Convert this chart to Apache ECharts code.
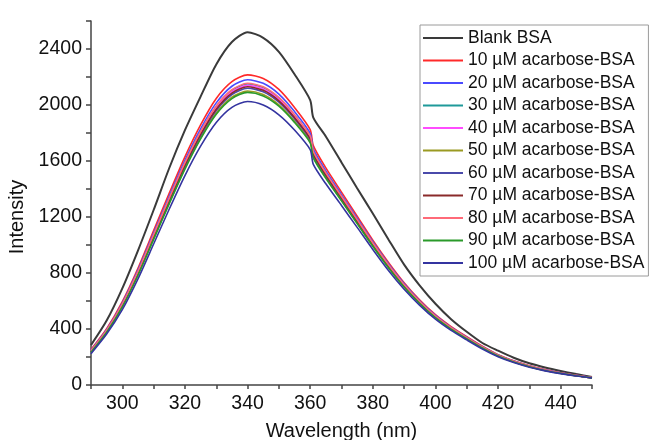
<!DOCTYPE html>
<html>
<head>
<meta charset="utf-8">
<script src="https://cdn.jsdelivr.net/npm/echarts@6/dist/echarts.min.js"></script>
<style>
html,body{margin:0;padding:0;background:#fff;}
#chart{width:651px;height:440px;}
</style>
</head>
<body>
<div id="chart"></div>
<script>
const wavelengths = [290,295,300,305,310,315,320,325,330,335,340,345,350,355,360,361,365,370,375,380,385,390,395,400,405,410,415,420,425,430,435,440,445,450];

const seriesNames = ['Blank BSA','10 µM acarbose-BSA','20 µM acarbose-BSA','30 µM acarbose-BSA','40 µM acarbose-BSA','50 µM acarbose-BSA','60 µM acarbose-BSA','70 µM acarbose-BSA','80 µM acarbose-BSA','90 µM acarbose-BSA','100 µM acarbose-BSA'];

const blank  = [285,460,690,960,1250,1550,1820,2060,2290,2450,2520,2480,2380,2220,2035,1910,1775,1590,1405,1225,1040,860,710,580,470,380,300,245,195,155,125,100,78,58];
const c10    = [253,402,596,834,1103,1371,1630,1858,2047,2167,2215,2190,2111,1982,1824,1710,1551,1378,1206,1035,876,731,607,502,417,345,277,217,173,138,110,88,70,54];
const c20    = [248,395,585,820,1085,1350,1605,1830,2015,2134,2180,2155,2078,1953,1798,1685,1530,1360,1191,1023,865,723,600,497,412,341,273,214,171,136,109,87,69,53];
const c30    = [243,389,576,808,1070,1332,1584,1806,1988,2104,2150,2125,2049,1927,1775,1664,1512,1345,1178,1012,856,715,594,491,408,337,270,212,168,134,107,86,68,52];
const c40    = [242,387,573,804,1065,1326,1577,1798,1979,2095,2140,2115,2040,1919,1768,1657,1506,1340,1174,1009,853,713,592,490,406,336,269,211,168,134,107,85,67,52];
const c50    = [235,379,561,788,1045,1302,1549,1766,1943,2056,2100,2075,2001,1884,1737,1629,1482,1320,1157,994,841,702,584,483,401,331,265,208,165,131,104,84,66,51];
const c60    = [238,383,567,796,1055,1314,1563,1782,1961,2075,2120,2095,2020,1901,1752,1643,1494,1330,1166,1001,847,707,588,486,404,334,267,209,166,132,105,85,67,52];
const c70    = [240,385,570,800,1060,1320,1570,1790,1970,2085,2130,2105,2030,1910,1760,1650,1500,1335,1170,1005,850,710,590,488,405,335,268,210,167,133,106,85,67,52];
const c80    = [244,390,578,810,1073,1335,1588,1810,1993,2109,2155,2130,2054,1931,1779,1668,1515,1348,1181,1014,858,716,595,492,409,338,271,212,169,135,107,86,68,53];
const c90    = [234,377,558,784,1040,1296,1542,1758,1934,2046,2090,2065,1992,1876,1730,1622,1476,1315,1153,991,838,700,582,481,399,330,264,207,164,131,104,83,66,51];
const c100   = [224,364,538,758,1007,1257,1496,1706,1875,1983,2025,2000,1930,1821,1681,1576,1437,1282,1126,968,818,684,569,470,390,322,257,202,160,127,101,81,64,50];

const allValues = [blank,c10,c20,c30,c40,c50,c60,c70,c80,c90,c100];
const colors = ['#3a3a3a','#ff2a2a','#4a4aff','#1f9a9a','#ff4cff','#9a9a22','#4a4aaa','#8a2a2a','#ff6a78','#2a9a2a','#3434a0'];

const font = '"Liberation Sans", Arial, Helvetica, sans-serif';
const chart = echarts.init(document.getElementById('chart'));

const series = seriesNames.map((name, i) => ({
  name: name,
  type: 'line',
  data: wavelengths.map((w, j) => [w, allValues[i][j]]),
  showSymbol: false,
  symbol: 'none',
  smooth: 0.25,
  lineStyle: { color: colors[i], width: i === 0 ? 2 : 1.6 },
  itemStyle: { color: colors[i] },
  z: 2,
  animation: false
}));

chart.setOption({
  animation: false,
  backgroundColor: '#fff',
  textStyle: { fontFamily: font },
  grid: { left: 91, right: 59, top: 21, bottom: 55, containLabel: false, outerBoundsMode: 'none' },
  legend: {
    orient: 'vertical',
    left: 420,
    top: 25,
    padding: [4, 4, 4, 3],
    icon: 'rect',
    itemWidth: 40,
    itemHeight: 2,
    itemGap: 4.5,
    borderColor: '#9a9a9a',
    borderWidth: 1,
    backgroundColor: '#fff',
    textStyle: { fontFamily: font, fontSize: 17.5, color: '#111', lineHeight: 18 },
    data: seriesNames
  },
  xAxis: {
    type: 'value',
    min: 290,
    max: 450,
    interval: 10,
    name: 'Wavelength (nm)',
    nameLocation: 'middle',
    nameGap: 36,
    nameTextStyle: { fontFamily: font, fontSize: 20, color: '#111' },
    axisLine: { lineStyle: { color: '#444', width: 1.5 } },
    axisTick: { show: true, length: 4, lineStyle: { color: '#444', width: 1.5 } },
    axisLabel: {
      fontFamily: font, fontSize: 19.5, color: '#111', margin: 9,
      formatter: v => ((v - 300) % 20 === 0 ? String(v) : '')
    },
    splitLine: { show: false }
  },
  yAxis: {
    type: 'value',
    min: 0,
    max: 2600,
    interval: 200,
    name: 'Intensity',
    nameLocation: 'middle',
    nameRotate: 90,
    nameGap: 63,
    nameTextStyle: { fontFamily: font, fontSize: 20, color: '#111', padding: [0, 28, 0, 0] },
    axisLine: { show: true, lineStyle: { color: '#444', width: 1.5 } },
    axisTick: { show: true, length: 5, lineStyle: { color: '#444', width: 1.5 } },
    axisLabel: {
      fontFamily: font, fontSize: 19.5, color: '#111', margin: 9,
      formatter: v => (v % 400 === 0 ? String(v) : '')
    },
    splitLine: { show: false }
  },
  series: series
});
</script>
</body>
</html>
